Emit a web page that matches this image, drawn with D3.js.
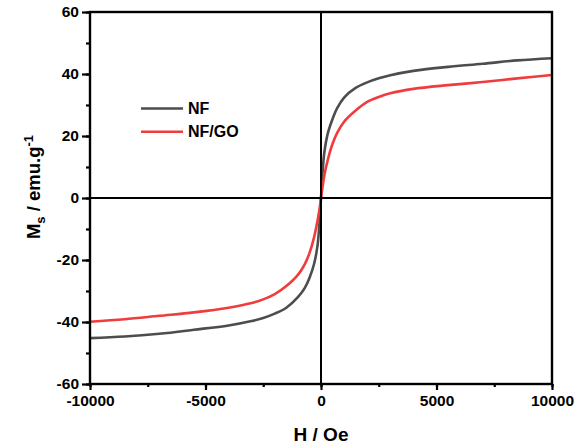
<!DOCTYPE html>
<html><head><meta charset="utf-8">
<script src="https://cdn.jsdelivr.net/npm/d3@7"></script>
<style>body{margin:0;background:#fff;} svg{display:block;font-family:Arial,"Liberation Sans",sans-serif;}</style>
</head><body>
<script>
const fieldH = [-10000,-8500,-7000,-5500,-4000,-3000,-2500,-2000,-1500,-1000,-700,-500,-300,-150,-75,0,75,150,300,500,700,1000,1500,2000,2500,3000,4000,5500,7000,8500,10000];
const msNF   = [-45.2,-44.7,-43.8,-42.5,-41.1,-39.7,-38.7,-37.3,-35.4,-32.0,-29.0,-25.8,-21.3,-15.3,-9.0,0,9.0,15.0,21.0,25.5,29.0,32.4,35.5,37.3,38.6,39.6,41.0,42.3,43.3,44.4,45.1];
const msNFGO = [-39.9,-39.1,-38.0,-36.9,-35.4,-33.9,-32.7,-31.0,-28.4,-24.8,-21.3,-17.8,-12.7,-7.3,-4.0,0,4.0,7.5,12.5,17.5,21.0,24.6,28.2,31.0,32.6,33.8,35.2,36.4,37.4,38.6,39.7];
const seriesNames = ["NF","NF/GO"];
const seriesColors = ["#4d4d4d","#f03c3c"];
const xTicks = [-10000,-5000,0,5000,10000];
const yTicks = [-60,-40,-20,0,20,40,60];

const W=582,H=446;
const m={l:90,r:30,t:12,b:62};
const svg=d3.select("body").append("svg").attr("width",W).attr("height",H);
const x=d3.scaleLinear().domain([-10000,10000]).range([m.l,W-m.r]);
const y=d3.scaleLinear().domain([-60,60]).range([H-m.b,m.t]);

// curves
const line=d3.line().x(d=>x(d[0])).y(d=>y(d[1])).curve(d3.curveCatmullRom.alpha(0.5));
[msNF,msNFGO].forEach((vals,i)=>{
  svg.append("path").datum(fieldH.map((h,j)=>[h,vals[j]]))
    .attr("d",line).attr("fill","none").attr("stroke",seriesColors[i]).attr("stroke-width",2.6);
});

// zero lines
svg.append("line").attr("x1",x(-10000)).attr("x2",x(10000)).attr("y1",y(0)).attr("y2",y(0)).attr("stroke","#000").attr("stroke-width",2);
svg.append("line").attr("x1",x(0)).attr("x2",x(0)).attr("y1",y(-60)).attr("y2",y(60)).attr("stroke","#000").attr("stroke-width",2);

// frame
svg.append("rect").attr("x",x(-10000)).attr("y",y(60)).attr("width",x(10000)-x(-10000)).attr("height",y(-60)-y(60))
  .attr("fill","none").attr("stroke","#000").attr("stroke-width",2.4);

// axes
const fmt=d=>String(d);
const xMinor=d3.axisBottom(x).tickValues(d3.range(-10000,10001,2500)).tickSize(3).tickFormat("");
const xMajor=d3.axisBottom(x).tickValues(xTicks).tickSize(6).tickPadding(5).tickFormat(fmt);
const yMinor=d3.axisLeft(y).tickValues(d3.range(-60,61,10)).tickSize(4).tickFormat("");
const yMajor=d3.axisLeft(y).tickValues(yTicks).tickSize(8).tickPadding(3).tickFormat(fmt);
[[xMinor,"b"],[xMajor,"b"],[yMinor,"l"],[yMajor,"l"]].forEach(([ax,s])=>{
  const g=svg.append("g").attr("transform",s==="b"?`translate(0,${y(-60)})`:`translate(${x(-10000)},0)`).call(ax);
  g.select(".domain").remove();
  g.selectAll(".tick line").attr("stroke","#000").attr("stroke-width",2.2);
  g.selectAll("text").attr("fill","#000").style("font-size","15.5px").style("font-weight","bold").style("font-family","Arial,'Liberation Sans',sans-serif");
});

// axis titles
svg.append("text").attr("x",x(0)).attr("y",441).attr("text-anchor","middle")
  .style("font-size","19px").style("font-weight","bold").text("H / Oe");
const yt=svg.append("text").attr("transform",`translate(40,187) rotate(-90)`).attr("text-anchor","middle")
  .style("font-size","18.5px").style("font-weight","bold");
yt.append("tspan").text("M");
yt.append("tspan").attr("dy",5).style("font-size","13px").text("s");
yt.append("tspan").attr("dy",-5).text(" / emu.g");
yt.append("tspan").attr("dy",-7).style("font-size","13px").text("-1");

// legend
const lg=svg.append("g");
seriesNames.forEach((n,i)=>{
  const yy=108.5+i*23.3;
  lg.append("line").attr("x1",141).attr("x2",183).attr("y1",yy).attr("y2",yy).attr("stroke",seriesColors[i]).attr("stroke-width",2.6);
  lg.append("text").attr("x",188).attr("y",yy+5.5).style("font-size","16px").style("font-weight","bold").text(n);
});
</script>
</body></html>
